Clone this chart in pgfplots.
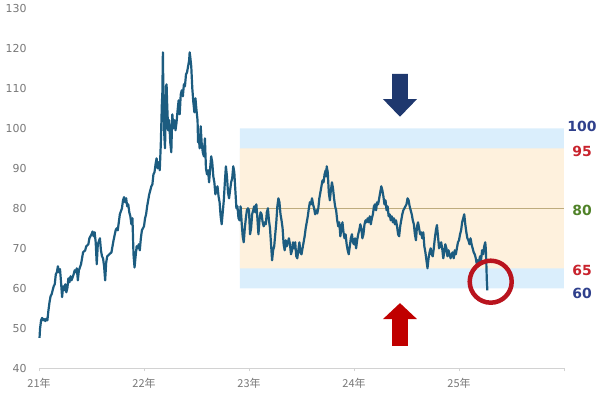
\documentclass[border=0pt]{standalone}
\usepackage{pgfplots}
\pgfplotsset{compat=1.18}
\usepackage{fontspec}
\setmainfont{DejaVu Sans}
\newfontfamily\cjk{Noto Sans CJK JP}
\definecolor{linec}{RGB}{28,92,128}
\definecolor{bandblue}{RGB}{218,238,252}
\definecolor{bandorange}{RGB}{254,241,221}
\definecolor{midline}{RGB}{190,172,125}
\definecolor{labelgray}{RGB}{120,120,120}
\definecolor{axisgray}{RGB}{210,210,210}
\definecolor{cblue}{RGB}{47,64,140}
\definecolor{cred}{RGB}{200,35,45}
\definecolor{cgreen}{RGB}{80,130,40}
\definecolor{arrowblue}{RGB}{31,56,110}
\definecolor{arrowred}{RGB}{192,0,0}
\definecolor{circred}{RGB}{185,20,30}
\begin{document}
\begin{tikzpicture}
\useasboundingbox (0,0) rectangle (600bp,394bp);
\begin{axis}[
  at={(39bp,25.7bp)}, anchor=south west,
  scale only axis, width=525bp, height=360bp,
  xmin=2021, xmax=2026, ymin=40, ymax=130,
  clip=false,
  axis x line*=bottom, axis y line*=left,
  y axis line style={draw=none},
  x axis line style={draw=axisgray, line width=0.7bp},
  xtick={2021,2022,2023,2024,2025,2026},
  xticklabels={{\cjk 21年},{\cjk 22年},{\cjk 23年},{\cjk 24年},{\cjk 25年},{}},
  ytick={40,50,...,130},
  ytick style={draw=none},
  xtick style={draw=axisgray, line width=0.7bp},
  major tick length=3bp, xtick align=outside,
  ticklabel style={font=\fontsize{11}{13}\selectfont, text=labelgray},
  yticklabel style={xshift=-9bp},
  xticklabel style={yshift=-3bp},
  /pgf/number format/assume math mode=true,
]
% bands
\addplot[draw=none, fill=bandblue] coordinates {(2022.914,60) (2026,60) (2026,100) (2022.914,100) (2022.914,60)};
\addplot[draw=none, fill=bandorange] coordinates {(2022.914,65) (2026,65) (2026,95) (2022.914,95) (2022.914,65)};
\addplot[midline, line width=0.7bp] coordinates {(2022.914,80) (2026,80)};
% price
\addplot[linec, line width=2.2bp, line join=round] table {
x y
2021.005 47.6
2021.01 49.9
2021.02 52.0
2021.03 52.6
2021.04 52.0
2021.05 52.3
2021.06 51.8
2021.07 52.4
2021.08 52.0
2021.09 54.5
2021.10 56.5
2021.11 58.0
2021.12 58.5
2021.13 59.5
2021.14 60.5
2021.15 61.0
2021.16 63.5
2021.17 64.0
2021.18 65.5
2021.19 64.0
2021.20 64.8
2021.21 61.5
2021.22 57.8
2021.23 60.5
2021.24 59.5
2021.25 61.0
2021.26 59.0
2021.27 60.0
2021.28 62.5
2021.29 61.5
2021.30 63.0
2021.31 62.0
2021.33 63.5
2021.34 64.5
2021.35 64.0
2021.36 65.0
2021.37 62.0
2021.38 64.5
2021.40 66.0
2021.41 67.5
2021.42 69.0
2021.44 69.5
2021.45 70.5
2021.47 71.0
2021.48 72.5
2021.50 73.5
2021.51 74.2
2021.52 73.0
2021.53 74.0
2021.54 71.5
2021.55 66.0
2021.56 71.0
2021.58 72.5
2021.59 69.5
2021.60 68.0
2021.61 67.5
2021.62 65.5
2021.63 62.0
2021.64 66.5
2021.65 68.0
2021.67 68.5
2021.69 69.0
2021.70 70.5
2021.71 72.0
2021.73 74.5
2021.74 75.0
2021.75 74.5
2021.76 76.5
2021.77 78.5
2021.79 80.0
2021.80 82.0
2021.81 82.8
2021.82 81.5
2021.83 82.5
2021.84 80.5
2021.85 81.0
2021.86 79.0
2021.87 78.0
2021.88 76.0
2021.89 77.5
2021.90 68.5
2021.91 65.2
2021.92 68.0
2021.93 70.5
2021.94 70.0
2021.95 71.0
2021.96 69.5
2021.97 72.5
2021.98 74.5
2021.99 75.0
2022.00 75.5
2022.01 77.5
2022.02 78.5
2022.03 80.5
2022.04 82.0
2022.05 83.5
2022.06 84.5
2022.07 85.5
2022.08 86.0
2022.09 88.5
2022.10 89.0
2022.11 91.0
2022.12 92.5
2022.13 90.0
2022.14 91.5
2022.15 89.5
2022.16 96.0
2022.17 106.0
2022.175 109.0
2022.18 119.0
2022.185 108.0
2022.19 100.0
2022.20 95.0
2022.205 101.0
2022.21 110.5
2022.215 111.0
2022.22 106.5
2022.23 99.5
2022.24 102.0
2022.25 96.5
2022.26 94.0
2022.265 99.0
2022.27 103.5
2022.28 100.0
2022.29 102.0
2022.30 99.5
2022.31 101.5
2022.32 104.5
2022.33 107.0
2022.34 103.5
2022.35 108.5
2022.36 109.5
2022.37 108.0
2022.38 111.0
2022.39 110.5
2022.40 113.5
2022.41 114.0
2022.42 115.5
2022.43 117.0
2022.435 119.0
2022.44 118.0
2022.45 115.5
2022.46 110.0
2022.47 106.5
2022.48 104.0
2022.49 107.5
2022.50 104.5
2022.51 102.0
2022.515 96.5
2022.52 98.5
2022.53 95.0
2022.54 100.5
2022.55 96.0
2022.56 94.0
2022.57 93.0
2022.58 97.5
2022.59 90.0
2022.60 88.5
2022.61 89.5
2022.62 86.5
2022.63 90.0
2022.64 93.0
2022.65 91.5
2022.66 88.0
2022.67 86.5
2022.68 83.5
2022.69 84.5
2022.70 85.5
2022.71 83.0
2022.72 81.5
2022.73 78.0
2022.74 76.0
2022.75 79.0
2022.76 82.0
2022.77 86.5
2022.78 90.5
2022.79 88.0
2022.80 84.0
2022.81 82.5
2022.82 84.5
2022.83 86.5
2022.84 87.5
2022.85 90.5
2022.86 89.0
2022.87 84.5
2022.88 80.0
2022.89 80.5
2022.90 77.5
2022.91 77.0
2022.92 80.5
2022.93 76.5
2022.94 73.0
2022.95 71.5
2022.96 75.0
2022.97 77.5
2022.98 79.5
2022.99 80.0
2023.00 79.5
2023.01 73.5
2023.02 75.0
2023.03 78.5
2023.04 79.5
2023.05 80.5
2023.06 79.0
2023.07 81.0
2023.08 77.5
2023.09 73.5
2023.10 77.0
2023.11 79.0
2023.12 78.5
2023.13 76.5
2023.14 75.5
2023.15 76.5
2023.16 76.0
2023.17 79.0
2023.18 80.0
2023.19 77.0
2023.20 75.0
2023.21 71.0
2023.22 67.0
2023.23 69.5
2023.24 70.5
2023.25 73.5
2023.26 76.5
2023.27 80.5
2023.28 82.5
2023.29 81.5
2023.30 78.5
2023.31 77.0
2023.32 75.0
2023.33 71.0
2023.34 69.5
2023.35 72.0
2023.36 70.5
2023.37 71.5
2023.38 72.5
2023.39 71.0
2023.40 68.5
2023.41 69.5
2023.42 71.5
2023.43 70.0
2023.44 71.5
2023.45 68.0
2023.46 67.5
2023.47 69.5
2023.48 71.5
2023.49 69.0
2023.50 68.5
2023.51 70.0
2023.52 71.5
2023.53 73.0
2023.54 75.0
2023.55 76.5
2023.56 78.0
2023.57 80.0
2023.58 81.5
2023.59 81.0
2023.60 82.5
2023.61 81.0
2023.62 80.0
2023.63 78.5
2023.64 79.5
2023.65 78.7
2023.66 80.0
2023.67 82.5
2023.68 84.0
2023.69 85.5
2023.70 87.0
2023.71 86.5
2023.72 88.5
2023.73 89.5
2023.735 88.0
2023.74 90.5
2023.75 89.0
2023.76 84.0
2023.77 82.0
2023.78 84.5
2023.79 86.5
2023.80 85.0
2023.81 82.5
2023.82 80.5
2023.83 79.5
2023.84 77.0
2023.85 75.5
2023.86 76.5
2023.87 73.0
2023.88 75.0
2023.89 76.5
2023.90 74.0
2023.91 72.5
2023.92 73.5
2023.93 71.0
2023.94 69.5
2023.95 68.5
2023.96 70.5
2023.97 72.5
2023.98 73.5
2023.99 71.5
2024.00 71.0
2024.01 72.5
2024.02 70.0
2024.03 72.0
2024.04 73.5
2024.05 74.5
2024.06 76.0
2024.07 75.0
2024.08 72.5
2024.09 73.5
2024.10 76.0
2024.11 77.0
2024.12 76.5
2024.13 77.5
2024.14 76.5
2024.15 78.0
2024.16 76.0
2024.17 77.5
2024.18 78.5
2024.19 80.5
2024.20 81.0
2024.21 79.5
2024.22 81.5
2024.23 81.0
2024.24 82.5
2024.25 84.0
2024.26 85.5
2024.27 84.5
2024.28 83.0
2024.29 81.0
2024.30 82.0
2024.31 79.5
2024.32 80.5
2024.33 78.0
2024.34 78.5
2024.35 77.0
2024.36 78.0
2024.37 76.5
2024.38 77.5
2024.39 76.0
2024.40 77.0
2024.41 75.5
2024.42 73.5
2024.43 73.0
2024.44 75.5
2024.45 77.0
2024.46 78.5
2024.47 79.5
2024.48 80.0
2024.49 80.5
2024.50 81.0
2024.51 82.5
2024.52 82.0
2024.53 80.5
2024.54 79.5
2024.55 78.5
2024.56 77.0
2024.57 76.0
2024.58 73.5
2024.59 72.0
2024.60 75.5
2024.61 76.5
2024.62 75.0
2024.63 73.5
2024.64 74.0
2024.65 72.5
2024.66 74.0
2024.67 70.5
2024.68 69.0
2024.69 67.0
2024.70 65.0
2024.71 67.5
2024.72 69.0
2024.73 70.0
2024.74 68.5
2024.75 68.0
2024.76 70.0
2024.77 72.5
2024.78 74.5
2024.79 75.8
2024.80 73.0
2024.81 70.0
2024.82 70.5
2024.83 71.5
2024.84 70.0
2024.85 67.5
2024.86 69.0
2024.87 71.0
2024.88 70.0
2024.89 68.0
2024.90 69.5
2024.91 68.5
2024.92 67.5
2024.93 68.5
2024.94 69.0
2024.95 67.5
2024.96 69.5
2024.97 68.5
2024.98 70.0
2024.99 71.5
2025.00 72.0
2025.01 73.5
2025.02 74.5
2025.03 76.5
2025.04 77.5
2025.05 78.5
2025.06 76.0
2025.07 74.0
2025.08 72.5
2025.09 72.0
2025.10 71.0
2025.11 72.5
2025.12 71.0
2025.13 70.0
2025.14 69.0
2025.15 68.5
2025.16 67.5
2025.17 66.0
2025.18 67.0
2025.19 66.5
2025.20 68.0
2025.21 67.0
2025.22 69.5
2025.23 68.5
2025.24 70.5
2025.25 71.5
2025.255 70.0
2025.26 66.5
2025.265 62.0
2025.27 59.5
};
% circle
\draw[circred, line width=4.5bp] (axis cs:2025.302,61.65) circle[radius=21bp];
% arrows
\fill[arrowblue] (axis cs:2024.364,113.6) -- (axis cs:2024.512,113.6) -- (axis cs:2024.512,107.3) -- (axis cs:2024.600,107.3) -- (axis cs:2024.438,102.9) -- (axis cs:2024.276,107.3) -- (axis cs:2024.364,107.3) -- cycle;
\fill[arrowred] (axis cs:2024.364,45.6) -- (axis cs:2024.512,45.6) -- (axis cs:2024.512,52.3) -- (axis cs:2024.600,52.3) -- (axis cs:2024.438,56.3) -- (axis cs:2024.276,52.3) -- (axis cs:2024.364,52.3) -- cycle;
% right labels
\node[font=\fontsize{14}{16}\selectfont\bfseries, text=cblue, xshift=18bp] at (axis cs:2026,100.5) {100};
\node[font=\fontsize{14}{16}\selectfont\bfseries, text=cred, xshift=18bp] at (axis cs:2026,94.2) {95};
\node[font=\fontsize{14}{16}\selectfont\bfseries, text=cgreen, xshift=18bp] at (axis cs:2026,79.5) {80};
\node[font=\fontsize{14}{16}\selectfont\bfseries, text=cred, xshift=18bp] at (axis cs:2026,64.4) {65};
\node[font=\fontsize{14}{16}\selectfont\bfseries, text=cblue, xshift=18bp] at (axis cs:2026,58.6) {60};
\end{axis}
\end{tikzpicture}
\end{document}
